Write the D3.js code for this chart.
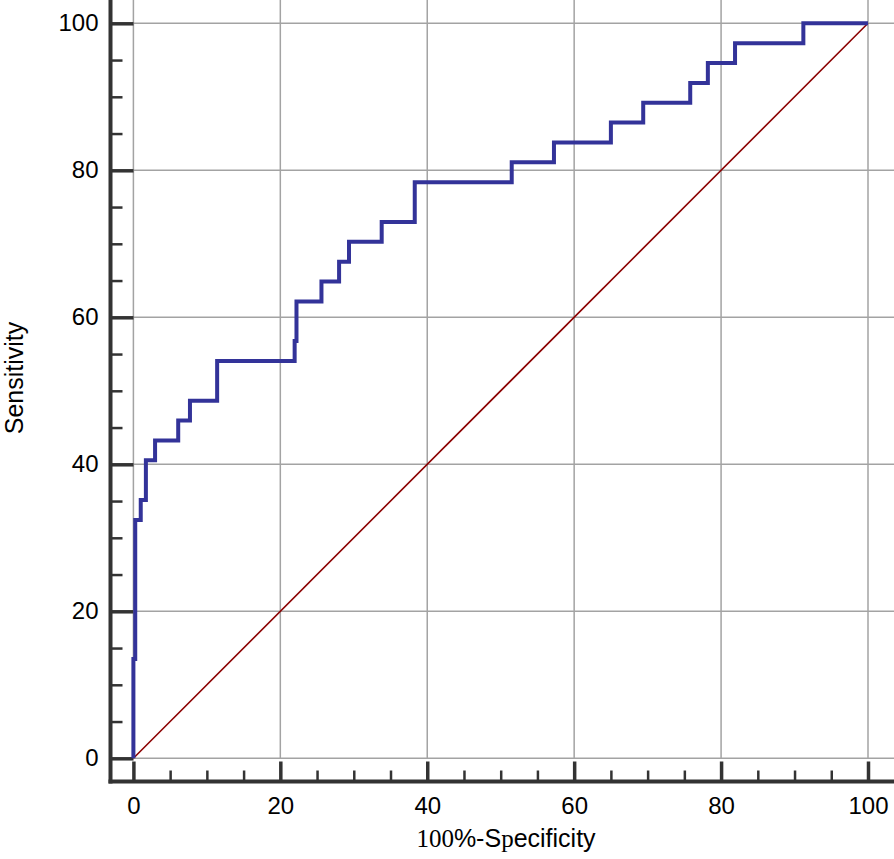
<!DOCTYPE html>
<html>
<head>
<meta charset="utf-8">
<script src="https://cdn.jsdelivr.net/npm/d3@7.9.0/dist/d3.min.js"></script>
<style>
  body { margin: 0; background: #fff; }
  svg { display: block; font-family: Arial, "Liberation Sans", sans-serif; }
</style>
</head>
<body>
<div id="chart"></div>
<script>
// ROC curve: 100%-Specificity (x) vs Sensitivity (y), step points
const fpr  = [0, 0, 0.25, 1.0, 1.7, 2.95, 6.1, 7.7, 11.4, 21.95, 22.2, 25.6, 28.0, 29.35, 33.8, 38.3, 51.5, 57.25, 65.0, 69.4, 75.8, 78.2, 81.9, 91.2, 100];
const sens = [0, 13.51, 32.43, 35.14, 40.54, 43.24, 45.95, 48.65, 54.05, 56.76, 62.16, 64.86, 67.57, 70.27, 72.97, 78.38, 81.08, 83.78, 86.49, 89.19, 91.89, 94.59, 97.30, 100, 100];
const majorTicks = [0, 20, 40, 60, 80, 100];
const minorTicks = [5, 10, 15, 25, 30, 35, 45, 50, 55, 65, 70, 75, 85, 90, 95];

const width = 894, height = 859;
const axisX = 110.5, axisY = 781.5;

const svg = d3.select('#chart').append('svg')
  .attr('width', width)
  .attr('height', height);

const x = d3.scaleLinear().domain([0, 100]).range([133.4, 868]);
const y = d3.scaleLinear().domain([0, 100]).range([758.3, 23.3]);

// grid
svg.append('g')
  .selectAll('line')
  .data(majorTicks)
  .enter().append('line')
  .attr('x1', d => x(d)).attr('x2', d => x(d))
  .attr('y1', y(0)).attr('y2', 0)
  .attr('stroke', '#a3a3a3').attr('stroke-width', 1.5);

svg.append('g')
  .selectAll('line')
  .data(majorTicks)
  .enter().append('line')
  .attr('x1', x(0)).attr('x2', width)
  .attr('y1', d => y(d)).attr('y2', d => y(d))
  .attr('stroke', '#a3a3a3').attr('stroke-width', 1.5);

// x axis
const xMinor = svg.append('g')
  .attr('transform', `translate(0,${axisY})`)
  .call(d3.axisBottom(x).tickValues(minorTicks).tickSize(-11).tickFormat(''));
const xMajor = svg.append('g')
  .attr('transform', `translate(0,${axisY})`)
  .call(d3.axisBottom(x).tickValues(majorTicks).tickSize(-20).tickPadding(15));
[xMinor, xMajor].forEach(g => g.select('.domain').remove());
xMinor.selectAll('line').attr('stroke', '#333').attr('stroke-width', 2.5);
xMajor.selectAll('line').attr('stroke', '#333').attr('stroke-width', 3.5);
xMajor.selectAll('text')
  .attr('fill', '#000')
  .style('font-size', '24px')
  .style('font-family', 'Arial, "Liberation Sans", sans-serif');

// y axis
const yMinor = svg.append('g')
  .attr('transform', `translate(${axisX},0)`)
  .call(d3.axisLeft(y).tickValues(minorTicks).tickSize(-12).tickFormat(''));
const yMajor = svg.append('g')
  .attr('transform', `translate(${axisX},0)`)
  .call(d3.axisLeft(y).tickValues(majorTicks).tickSize(-23).tickPadding(12));
[yMinor, yMajor].forEach(g => g.select('.domain').remove());
yMinor.selectAll('line').attr('stroke', '#333').attr('stroke-width', 2.5);
yMajor.selectAll('line').attr('stroke', '#333').attr('stroke-width', 3.5);
yMajor.selectAll('text')
  .attr('fill', '#000')
  .style('font-size', '24px')
  .style('font-family', 'Arial, "Liberation Sans", sans-serif');

// axis lines
svg.append('line')
  .attr('x1', axisX).attr('x2', axisX)
  .attr('y1', 0).attr('y2', axisY + 2)
  .attr('stroke', '#333').attr('stroke-width', 4);
svg.append('line')
  .attr('x1', axisX - 2).attr('x2', width)
  .attr('y1', axisY).attr('y2', axisY)
  .attr('stroke', '#333').attr('stroke-width', 4);

// reference diagonal
svg.append('line')
  .attr('x1', x(0)).attr('y1', y(0))
  .attr('x2', x(100)).attr('y2', y(100))
  .attr('stroke', '#8b0000').attr('stroke-width', 1.6);

// ROC curve
const roc = fpr.map((d, i) => ({ fpr: d, sens: sens[i] }));
const line = d3.line()
  .x(d => x(d.fpr)).y(d => y(d.sens))
  .curve(d3.curveStepAfter);

svg.append('path')
  .datum(roc)
  .attr('fill', 'none')
  .attr('stroke', '#333399')
  .attr('stroke-width', 4)
  .attr('d', line);

// titles
const xt = svg.append('text')
  .attr('x', 506).attr('y', 847)
  .attr('text-anchor', 'middle')
  .attr('fill', '#000')
  .style('font-size', '25px');
xt.append('tspan').style('font-family', '"Liberation Serif", "Times New Roman", serif').text('100');
xt.append('tspan').text('%-S');
xt.append('tspan').style('font-family', '"Liberation Serif", "Times New Roman", serif').text('p');
xt.append('tspan').text('ecificity');

svg.append('text')
  .attr('transform', 'translate(23,378) rotate(-90)')
  .attr('text-anchor', 'middle')
  .attr('fill', '#000')
  .style('font-size', '25px')
  .text('Sensitivity');
</script>
</body>
</html>
